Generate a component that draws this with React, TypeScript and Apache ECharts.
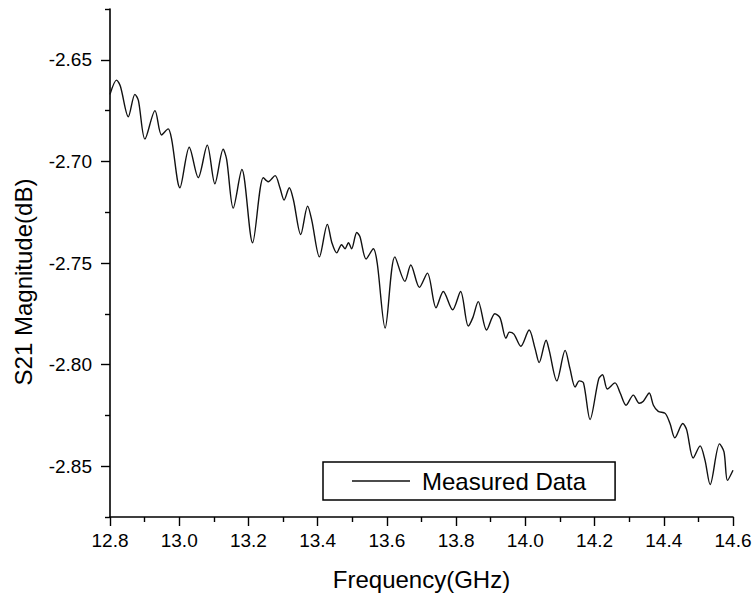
import React, { useEffect, useRef } from "react";
import * as echarts from "echarts";

const freqGHz = [
  12.8, 12.819, 12.83, 12.853, 12.872, 12.882, 12.901, 12.93, 12.949, 12.968, 12.978,
  13.002, 13.029, 13.055, 13.081, 13.103, 13.127, 13.137, 13.156, 13.181, 13.212,
  13.243, 13.257, 13.277, 13.291, 13.303, 13.318, 13.33, 13.351, 13.371, 13.383,
  13.405, 13.428, 13.441, 13.455, 13.469, 13.479, 13.489, 13.498, 13.513, 13.522,
  13.54, 13.561, 13.572, 13.595, 13.623, 13.652, 13.669, 13.694, 13.717, 13.742,
  13.763, 13.79, 13.813, 13.835, 13.848, 13.864, 13.888, 13.912, 13.927, 13.944,
  13.954, 13.967, 13.987, 14.011, 14.028, 14.04, 14.06, 14.069, 14.091, 14.115,
  14.129, 14.144, 14.156, 14.168, 14.187, 14.212, 14.223, 14.237, 14.259, 14.274,
  14.291, 14.312, 14.329, 14.341, 14.358, 14.37, 14.384, 14.404, 14.418, 14.432,
  14.455, 14.466, 14.485, 14.505, 14.519, 14.534, 14.561, 14.574, 14.584, 14.6,
];

const s21dB = [
  -2.667, -2.66, -2.663, -2.678, -2.667, -2.67, -2.689, -2.675, -2.687, -2.684, -2.689,
  -2.713, -2.693, -2.708, -2.692, -2.711, -2.694, -2.699, -2.723, -2.704, -2.74,
  -2.708, -2.71, -2.707, -2.713, -2.719, -2.713, -2.719, -2.736, -2.722, -2.729,
  -2.747, -2.731, -2.74, -2.745, -2.741, -2.743, -2.74, -2.743, -2.735, -2.737,
  -2.748, -2.743, -2.75, -2.782, -2.747, -2.759, -2.751, -2.762, -2.755, -2.772,
  -2.764, -2.773, -2.764, -2.781, -2.777, -2.769, -2.783, -2.775, -2.777, -2.787,
  -2.784, -2.785, -2.791, -2.783, -2.792, -2.799, -2.788, -2.793, -2.808, -2.793,
  -2.802, -2.811, -2.808, -2.809, -2.827, -2.807, -2.805, -2.812, -2.809, -2.814,
  -2.82, -2.815, -2.819, -2.818, -2.814, -2.82, -2.823, -2.824, -2.829, -2.836,
  -2.829, -2.832, -2.846, -2.84, -2.847, -2.859, -2.839, -2.843, -2.857, -2.852,
];

const yMajorTicks = [-2.85, -2.8, -2.75, -2.7, -2.65];
const yMinorTicks = [-2.875, -2.825, -2.775, -2.725, -2.675, -2.625];

const xTitle = "Frequency(GHz)";
const yTitle = "S21 Magnitude(dB)";
const seriesName = "Measured Data";

const FONT = "Liberation Sans, Arial, Helvetica, sans-serif";

export default function App() {
  const ref = useRef<HTMLDivElement>(null);
  useEffect(() => {
    if (!ref.current) return;
    const chart = echarts.init(ref.current, undefined, { renderer: "svg" });
    const data = freqGHz.map((f, i) => [f, s21dB[i]]);
    chart.setOption({
      animation: false,
      backgroundColor: "#ffffff",
      grid: { left: 110, right: 22, top: 9, bottom: 80 },
      graphic: [
        {
          type: "text",
          x: 23,
          y: 282,
          rotation: Math.PI / 2,
          style: {
            text: yTitle,
            fontFamily: FONT,
            fontSize: 24,
            fill: "#000",
            align: "center",
            verticalAlign: "middle",
          },
        },
      ],
      legend: {
        left: 323,
        top: 462,
        orient: "horizontal",
        padding: [7, 29, 7, 29],
        borderColor: "#000",
        borderWidth: 1.5,
        borderRadius: 0,
        itemWidth: 58,
        itemHeight: 1.5,
        textStyle: { fontFamily: FONT, fontSize: 24, color: "#000", padding: [0, 0, 0, 7] },
        data: [{ name: seriesName, icon: "rect", itemStyle: { color: "#111" } }],
      },
      xAxis: {
        type: "value",
        min: 12.8,
        max: 14.6,
        interval: 0.2,
        name: xTitle,
        nameLocation: "middle",
        nameGap: 50,
        nameTextStyle: { fontFamily: FONT, fontSize: 24, color: "#000" },
        axisLine: { show: true, onZero: false, lineStyle: { color: "#000", width: 1.6 } },
        axisTick: { show: true, inside: false, length: 9, lineStyle: { color: "#000", width: 1.4 } },
        minorTick: { show: true, splitNumber: 2, length: 5, lineStyle: { color: "#000", width: 1.4 } },
        splitLine: { show: false },
        minorSplitLine: { show: false },
        axisLabel: {
          fontFamily: FONT,
          fontSize: 19,
          color: "#000",
          margin: 14,
          formatter: (v: number) => v.toFixed(1),
        },
      },
      yAxis: [
        {
          type: "value",
          position: "left",
          min: -2.875,
          max: -2.625,
          interval: 0.025,
          axisLine: { show: true, onZero: false, lineStyle: { color: "#000", width: 1.6 } },
          axisTick: {
            show: true,
            inside: false,
            length: 9,
            customValues: yMajorTicks,
            lineStyle: { color: "#000", width: 1.4 },
          },
          splitLine: { show: false },
          axisLabel: {
            fontFamily: FONT,
            fontSize: 19,
            color: "#000",
            margin: 18,
            customValues: yMajorTicks,
            formatter: (v: number) => v.toFixed(2),
          },
        },
        {
          type: "value",
          position: "left",
          min: -2.875,
          max: -2.625,
          interval: 0.025,
          axisLine: { show: false },
          axisTick: {
            show: true,
            inside: false,
            length: 5,
            customValues: yMinorTicks,
            lineStyle: { color: "#000", width: 1.4 },
          },
          splitLine: { show: false },
          axisLabel: { show: false },
        },
      ],
      series: [
        {
          name: seriesName,
          type: "line",
          data,
          xAxisIndex: 0,
          yAxisIndex: 0,
          symbol: "none",
          smooth: 0.3,
          lineStyle: { color: "#111", width: 1.4 },
          itemStyle: { color: "#111" },
        },
      ],
    });
    return () => chart.dispose();
  }, []);
  return (
    <div
      ref={ref}
      style={{ position: "fixed", left: 0, top: 0, width: 755, height: 597, background: "#fff" }}
    />
  );
}
